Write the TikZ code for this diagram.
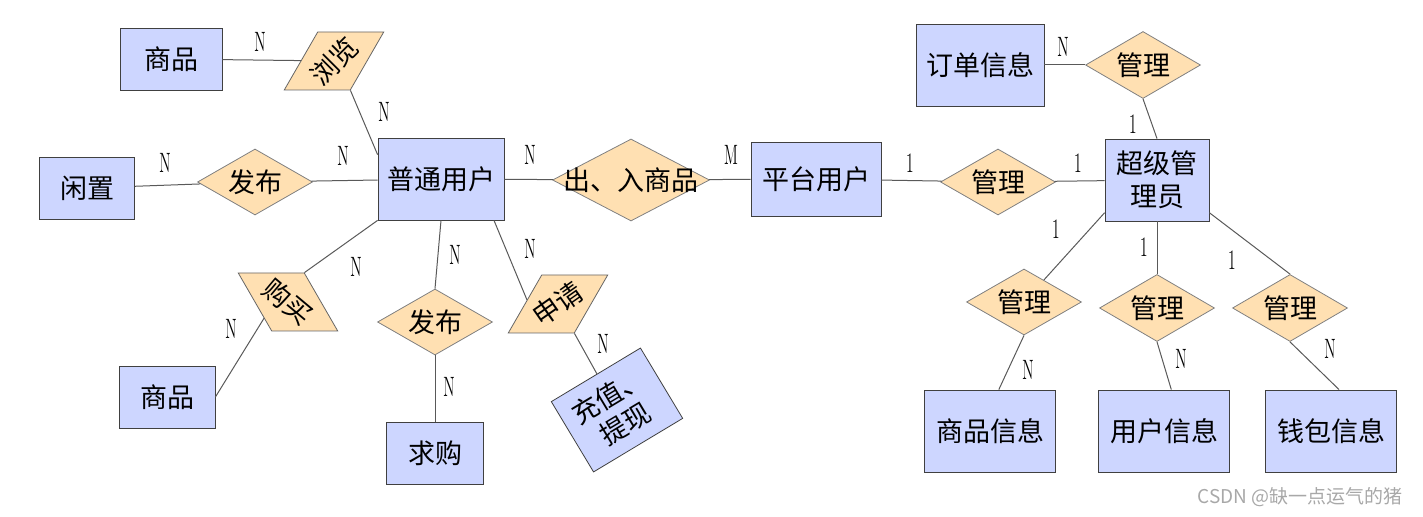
\documentclass[tikz,border=0pt]{standalone}
\usepackage{fontspec}
\usepackage{xcolor}
\usepackage{tikz}
\usetikzlibrary{shapes.geometric}
\newfontfamily\cjk{Noto Sans CJK SC}
\definecolor{entfill}{HTML}{CDD6FF}
\definecolor{relfill}{HTML}{FFE0B2}
\definecolor{marktext}{HTML}{A8A8A8}

\begin{document}
\begin{tikzpicture}[
    x=0.5pt, y=-0.5pt,
    entity/.style={rectangle, draw=black!75, fill=entfill, inner sep=0pt, font=\cjk\fontsize{13.5}{16.5}\selectfont, align=center},
    relation/.style={diamond, draw=black!50, fill=relfill, inner sep=0pt, aspect=1.75, minimum width=57.5pt, minimum height=33pt, font=\cjk\fontsize{13.5}{16.5}\selectfont},
    slanted/.style={rectangle, draw=black!60, fill=relfill, inner sep=0pt, minimum width=33pt, minimum height=29pt},
    slantr/.style={slanted, xslant=0.577},
    slantl/.style={slanted, xslant=-0.577},
    word/.style={font=\cjk\fontsize{13.5}{16.5}\selectfont, inner sep=0pt},
    card/.style={font=\fontsize{14}{14}\selectfont, xscale=0.55, transform shape, inner sep=0pt},
    link/.style={draw=black!65, line width=0.5pt}
]
    \useasboundingbox (0,0) rectangle (1423,517);

    % Left part
    \node[entity, minimum width=51pt, minimum height=31pt] (goods1) at (171,59) {商品};
    \node[slantr] (browse) at (334,61) {};
    \node[word, rotate=45] (browse-t) at (browse.center) {浏览};
    \node[entity, minimum width=47.5pt, minimum height=31pt] (idle) at (87,188) {闲置};
    \node[relation] (post1) at (255,182) {发布};
    \node[entity, minimum width=63pt, minimum height=41pt] (user) at (441,179) {普通用户};
    \node[relation, minimum width=78.5pt, minimum height=41pt] (trade) at (631,180) {\makebox[0pt]{出、入商品}};

    % Lower left
    \node[slantl] (buy) at (288,302) {};
    \node[word, rotate=-40] (buy-t) at (buy.center) {购买};
    \node[entity, minimum width=48pt, minimum height=31pt] (goods2) at (167,397) {商品};
    \node[relation] (post2) at (435,322) {发布};
    \node[entity, minimum width=48.5pt, minimum height=31pt] (want) at (435,453) {求购};
    \node[slantr] (apply) at (558,304) {};
    \node[word, rotate=35] (apply-t) at (apply.center) {申请};
    \node[entity, rotate=31, minimum width=52pt, minimum height=41pt] (charge) at (617,410) {充值、\\提现};

    % Right part
    \node[entity, minimum width=65pt, minimum height=37pt] (platform) at (816,179) {平台用户};
    \node[relation] (manage) at (998,182) {管理};
    \node[entity, minimum width=52pt, minimum height=41pt] (admin) at (1157,180) {超级管\\理员};
    \node[entity, minimum width=64pt, minimum height=41pt] (order) at (980,65) {订单信息};
    \node[relation, minimum height=33.5pt] (mgtop) at (1143,65) {管理};
    \node[relation] (mga) at (1024,302) {管理};
    \node[relation, minimum height=33.5pt] (mgb) at (1157,308) {管理};
    \node[relation, minimum height=33.5pt] (mgc) at (1290,308) {管理};
    \node[entity, minimum width=65.5pt, minimum height=41pt] (goodsinfo) at (990,431) {商品信息};
    \node[entity, minimum width=65.5pt, minimum height=41pt] (userinfo) at (1164,431) {用户信息};
    \node[entity, minimum width=65.5pt, minimum height=41pt] (wallet) at (1331,431) {钱包信息};

    % Links
    \draw[link] (goods1) -- (browse);
    \draw[link] (browse.south east) -- (user.159);
    \draw[link] (idle) -- (post1);
    \draw[link] (post1) -- (user);
    \draw[link] (user) -- (trade);
    \draw[link] (trade) -- (platform);
    \draw[link] (platform) -- (manage);
    \draw[link] (manage) -- (admin);
    \draw[link] (order) -- (mgtop);
    \draw[link] (mgtop.south) -- (admin.north);
    \draw[link] (admin.212) -- (mga);
    \draw[link] (admin.south) -- (mgb.north);
    \draw[link] (admin.-32) -- (mgc.north);
    \draw[link] (mga.south) -- (goodsinfo.78);
    \draw[link] (mgb.south) -- (userinfo.80);
    \draw[link] (mgc.south) -- (wallet.79);
    \draw[link] (user.south west) -- (buy.north east);
    \draw[link] (buy.206) -- (goods2.east);
    \draw[link] (user.south) -- (post2.north);
    \draw[link] (post2.south) -- (want.north);
    \draw[link] (user.-38) -- (apply.173);
    \draw[link] (apply.south east) -- (charge);

    % Cardinalities
    \node[card] (c1) at (260,42) {N};
    \node[card] (c2) at (384,112) {N};
    \node[card] (c3) at (165,163) {N};
    \node[card] (c4) at (343,156) {N};
    \node[card] (c5) at (530,155) {N};
    \node[card] (c6) at (731,155) {M};
    \node[card] (c7) at (910,163) {1};
    \node[card] (c8) at (1078,163) {1};
    \node[card] (c9) at (1063,47) {N};
    \node[card] (c10) at (1133,124) {1};
    \node[card] (c11) at (1056,229) {1};
    \node[card] (c12) at (1144,247) {1};
    \node[card] (c13) at (1232,260) {1};
    \node[card] (c14) at (1028,370) {N};
    \node[card] (c15) at (1181,359) {N};
    \node[card] (c16) at (1330,349) {N};
    \node[card] (c17) at (356,267) {N};
    \node[card] (c18) at (231,329) {N};
    \node[card] (c19) at (455,255) {N};
    \node[card] (c20) at (449,387) {N};
    \node[card] (c21) at (530,249) {N};
    \node[card] (c22) at (603,344) {N};

    % Watermark
    \node[font=\cjk\fontsize{9.5}{10}\selectfont, text=marktext, anchor=west, inner sep=0pt] (mark) at (1197,497) {CSDN @缺一点运气的猪};
\end{tikzpicture}
\end{document}
